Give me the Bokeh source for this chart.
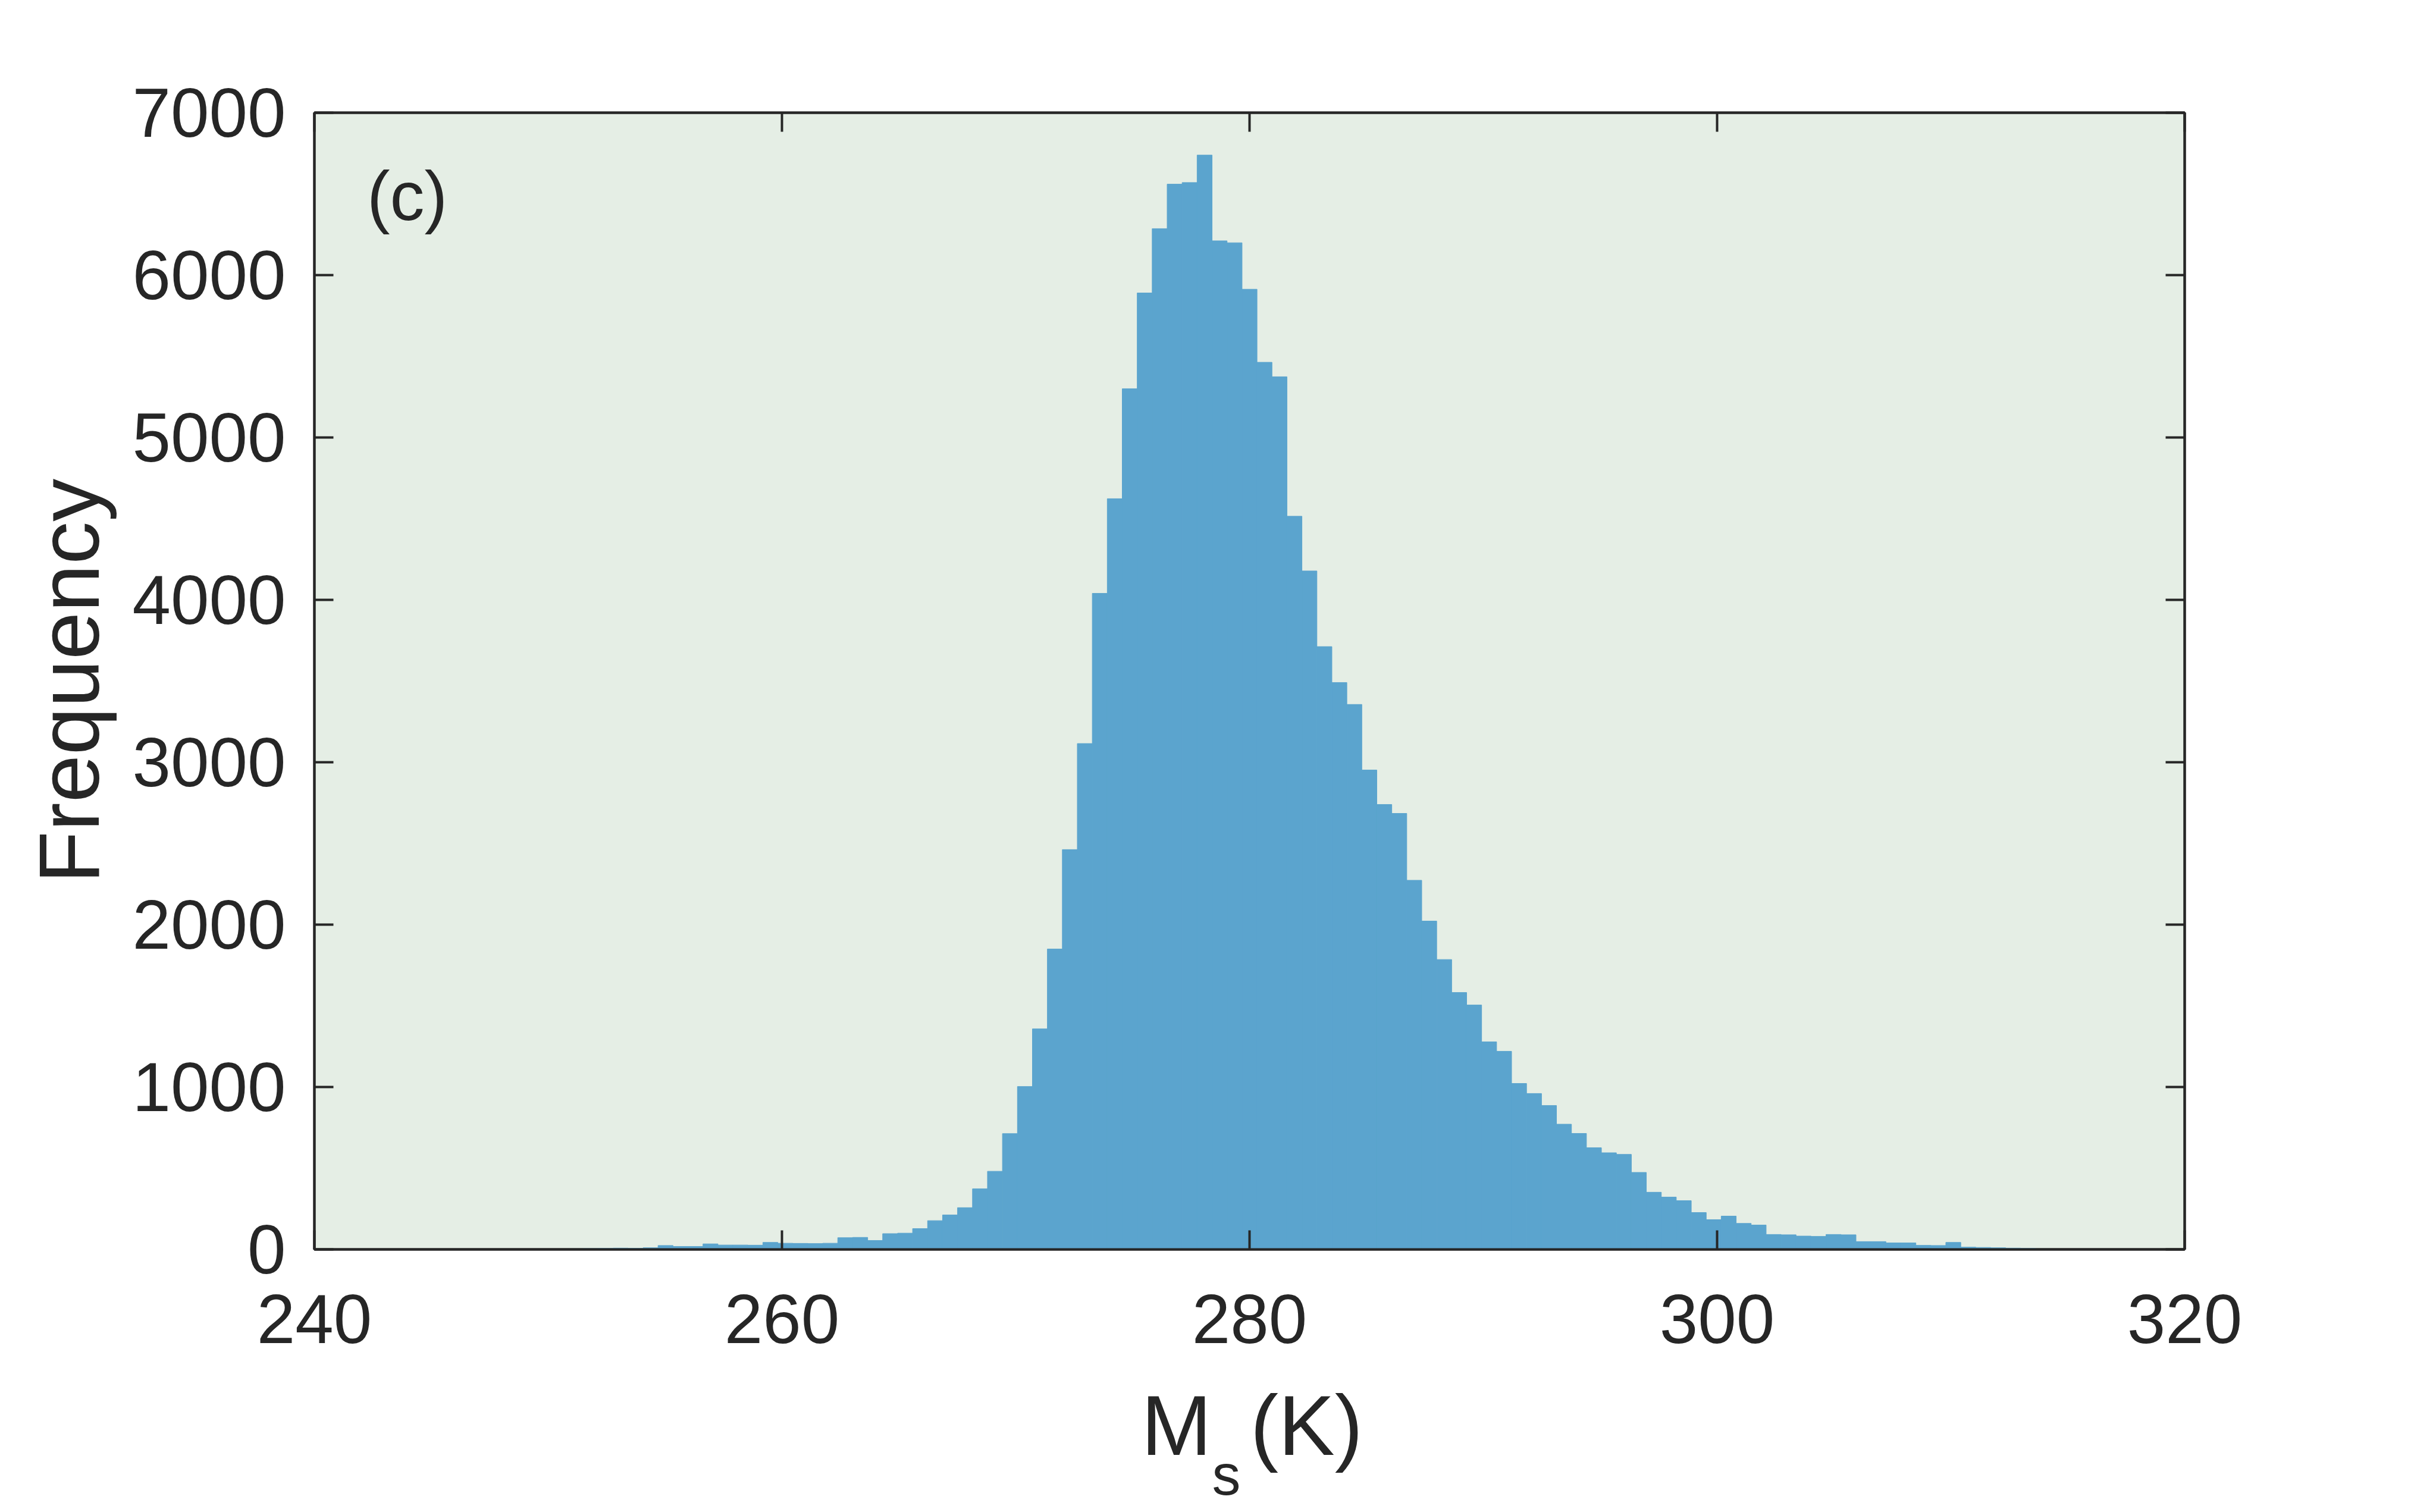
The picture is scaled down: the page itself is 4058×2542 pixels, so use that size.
import numpy as np
from bokeh.plotting import figure
from bokeh.layouts import column
from bokeh.models import Range1d, LinearAxis, FixedTicker, Label, CustomJSTickFormatter
from bokeh.core.properties import value
from bokeh.embed import file_html
from bokeh.resources import INLINE

# ---- data ----
bin_start = 248.295      # left edge of the first bin (K)
bin_width = 0.6405       # bin width (K)
counts = [
    1, 2, 3, 2, 4, 5, 6, 8, 7, 10,
    24, 18, 18, 34, 27, 27, 26, 43, 38, 37,
    36, 38, 72, 74, 55, 97, 100, 128, 177, 212,
    257, 373, 481, 713, 1003, 1358, 1850, 2462, 3115, 4040,
    4623, 5300, 5890, 6286, 6560, 6570, 6739, 6211, 6199, 5913,
    5463, 5374, 4515, 4178, 3712, 3491, 3356, 2952, 2740, 2685,
    2273, 2022, 1785, 1582, 1505, 1278, 1220, 1022, 960, 886,
    771, 714, 626, 595, 585, 474, 352, 322, 300, 227,
    183, 205, 160, 150, 92, 90, 82, 80, 92, 90,
    48, 48, 40, 40, 25, 24, 43, 14, 12, 10,
    8, 6, 4, 3,
]
x_ticks = [240, 260, 280, 300, 320]
y_ticks = [0, 1000, 2000, 3000, 4000, 5000, 6000, 7000]
y_label = "Frequency"
x_label_main = "M"
x_label_sub = "s"
x_label_tail = "(K)"
panel_tag = "(c)"

FONT = "Liberation Sans"
INK = "#262626"
BAR = "#5BA4CE"
BG = "#E5EEE5"

left = bin_start + bin_width * np.arange(len(counts))
right = left + bin_width

xr = Range1d(240, 320)
p = figure(
    frame_width=3144, frame_height=1911,
    x_range=xr, y_range=Range1d(0, 7000),
    output_backend="svg", toolbar_location=None,
    min_border_left=528, min_border_right=378,
    min_border_top=189, min_border_bottom=200,
)
p.background_fill_color = BG
p.border_fill_color = "white"
p.outline_line_color = INK
p.outline_line_width = 4
p.grid.visible = False

p.quad(left=left, right=right, top=counts, bottom=0,
       fill_color=BAR, line_color=BAR, line_width=1)


def style_axis(ax, ticks, show_labels=True):
    ax.ticker = FixedTicker(ticks=ticks)
    ax.major_tick_in = 32
    ax.major_tick_out = 0
    ax.minor_tick_line_color = None
    ax.major_tick_line_color = INK
    ax.major_tick_line_width = 4
    ax.axis_line_color = INK
    ax.axis_line_width = 4
    ax.major_label_text_font = FONT
    ax.major_label_text_font_size = "116px"
    ax.major_label_text_color = INK
    if not show_labels:
        ax.formatter = CustomJSTickFormatter(code="return ''")


xax = p.xaxis[0]
yax = p.yaxis[0]
style_axis(xax, x_ticks)
style_axis(yax, y_ticks)
xax.major_label_standoff = 76
yax.major_label_standoff = 48

yax.axis_label = y_label
yax.axis_label_text_font = FONT
yax.axis_label_text_font_size = "144px"
yax.axis_label_text_font_style = "normal"
yax.axis_label_text_color = INK
yax.axis_label_standoff = 22

rax = LinearAxis()
style_axis(rax, y_ticks, show_labels=False)
p.add_layout(rax, "right")
tax = LinearAxis()
style_axis(tax, x_ticks, show_labels=False)
p.add_layout(tax, "above")

# panel tag
p.add_layout(Label(x=242.25, y=6487, text=panel_tag, text_font_size="116px",
                   x_units="data", y_units="data", text_font=FONT, text_color=INK,
                   text_baseline="middle", text_align="left"))

# strip below the chart holding the x-axis title M_s(K)
q = figure(
    frame_width=3144, frame_height=234,
    x_range=xr, y_range=Range1d(0, 234),
    output_backend="svg", toolbar_location=None,
    min_border_left=528, min_border_right=378,
    min_border_top=0, min_border_bottom=0,
    x_axis_type=None, y_axis_type=None,
)
q.outline_line_color = None
q.grid.visible = False
q.background_fill_color = "white"
q.border_fill_color = "white"

tstyle = dict(text_font=value(FONT), text_color=INK,
              text_baseline="middle", text_align="left")
q.text(x=[275.37], y=[138], text=[x_label_main], text_font_size="142px", **tstyle)
q.text(x=[278.40], y=[55], text=[x_label_sub], text_font_size="96px", **tstyle)
q.text(x=[280.03], y=[138], text=[x_label_tail], text_font_size="142px", **tstyle)

layout = column(p, q, spacing=0)
open("out.html", "w").write(file_html(layout, INLINE))
